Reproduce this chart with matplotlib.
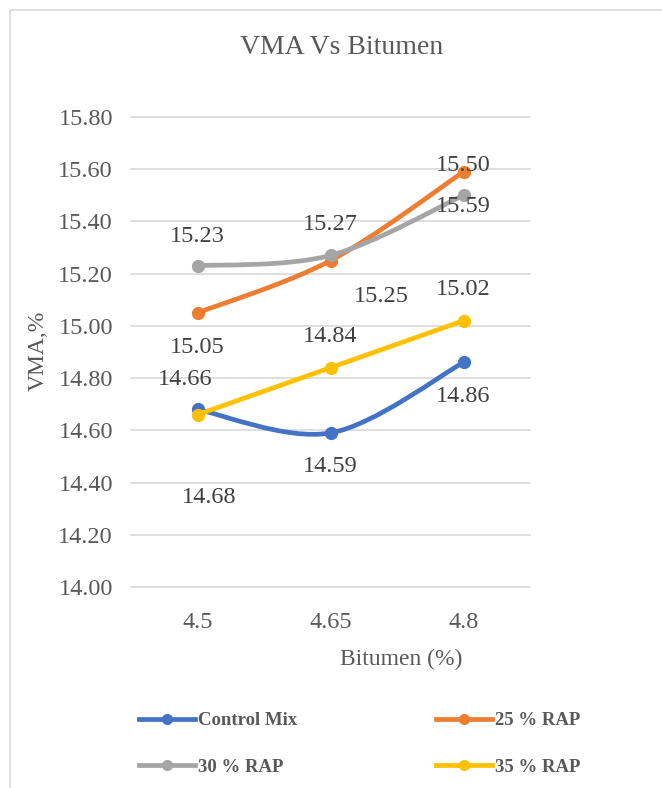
import matplotlib
matplotlib.use("Agg")
import matplotlib.pyplot as plt
from matplotlib.path import Path
from matplotlib.patches import PathPatch, Rectangle
from matplotlib.lines import Line2D

plt.rcParams['font.family'] = ['Liberation Serif', 'DejaVu Serif']

# data
bitumen = ['4.5', '4.65', '4.8']
series_names = ['Control Mix', '25 % RAP', '30 % RAP', '35 % RAP']
control_mix = [14.68, 14.59, 14.86]
rap_25 = [15.05, 15.25, 15.59]
rap_30 = [15.23, 15.27, 15.50]
rap_35 = [14.66, 14.84, 15.02]
y_ticks = [14.00, 14.20, 14.40, 14.60, 14.80, 15.00, 15.20, 15.40, 15.60, 15.80]

colors = ['#4472C4', '#ED7D31', '#A5A5A5', '#FFC000']
# label offsets in pixels (as laid out in the original chart)
label_offsets = [
    [(12, -88), (0, -34), (0, -34)],
    [(0, -35), (51, -36), (0, -35)],
    [(0, 29), (0, 31), (0, 30)],
    [(-12, 35), (0, 31), (0, 31)],
]
text_col = '#595959'


def smooth_path(xs, ys):
    # Excel style smoothed line (Catmull-Rom as cubic bezier)
    pts = list(zip(xs, ys))
    ext = [pts[0]] + pts + [pts[-1]]
    verts = [pts[0]]
    codes = [Path.MOVETO]
    for i in range(1, len(ext) - 2):
        p0, p1, p2, p3 = ext[i - 1], ext[i], ext[i + 1], ext[i + 2]
        c1 = (p1[0] + (p2[0] - p0[0]) / 6, p1[1] + (p2[1] - p0[1]) / 6)
        c2 = (p2[0] - (p3[0] - p1[0]) / 6, p2[1] - (p3[1] - p1[1]) / 6)
        verts += [c1, c2, p2]
        codes += [Path.CURVE4] * 3
    return Path(verts, codes)


fig = plt.figure(figsize=(6.62, 7.88), dpi=100)
ax = fig.add_axes([131 / 662, 1 - 587 / 788, 399 / 662, 470 / 788])

x = list(range(len(bitumen)))
all_series = [control_mix, rap_25, rap_30, rap_35]

for k, (vals, col) in enumerate(zip(all_series, colors)):
    z = 3 + k
    ax.add_patch(PathPatch(smooth_path(x, vals), fill=False, edgecolor=col,
                           lw=3.4, capstyle='round', joinstyle='round', zorder=z))
    ax.plot(x, vals, 'o', color=col, markersize=8.5, zorder=z)
    for xi, v, off in zip(x, vals, label_offsets[k]):
        ax.annotate(f'{v:.2f}', (xi, v), xytext=off, textcoords='offset pixels',
                    ha='center', va='center', fontsize=17.5, color='#404040', zorder=10)

ax.set_xlim(-0.5, len(bitumen) - 0.5)
ax.set_ylim(14.0, 15.8)
ax.set_yticks(y_ticks)
ax.set_yticklabels([f'{t:.2f}' for t in y_ticks])
ax.set_xticks(x)
ax.set_xticklabels(bitumen)
ax.tick_params(length=0, labelsize=17.5, labelcolor=text_col)
ax.tick_params(axis='y', pad=13)
ax.tick_params(axis='x', pad=18)
ax.grid(axis='y', color='#D9D9D9', lw=1.2)
for gl in ax.get_ygridlines():
    gl.set_clip_on(False)
ax.set_axisbelow(True)
for s in ax.spines.values():
    s.set_visible(False)

fig.text(342 / 662, 1 - 48 / 788, 'VMA Vs Bitumen', ha='center', va='center',
         fontsize=20, color=text_col)
fig.text(401 / 662, 1 - 659 / 788, 'Bitumen (%)', ha='center', va='center',
         fontsize=17, color=text_col)
fig.text(38 / 662, 1 - 351 / 788, 'VMA,%', ha='center', va='center', rotation=90,
         fontsize=17, color=text_col)

handles = [Line2D([], [], color=c, lw=3.4, marker='o', markersize=7) for c in colors]
order = [0, 2, 1, 3]
fig.legend([handles[i] for i in order], [series_names[i] for i in order], ncol=2,
           loc='center left', bbox_to_anchor=(139 / 662, 1 - 744 / 788),
           frameon=False, borderpad=0, borderaxespad=0, handlelength=3.0,
           handletextpad=0.16, columnspacing=7.4, labelspacing=1.55,
           prop={'family': 'Liberation Serif', 'weight': 'bold', 'size': 13.5},
           labelcolor=text_col)

fig.patches.append(Rectangle((10 / 662, -0.1), 1.2, 1.1 - 10 / 788, transform=fig.transFigure,
                             fill=False, edgecolor='#D9D9D9', lw=1.2))

fig.savefig('out.png', dpi=100)
